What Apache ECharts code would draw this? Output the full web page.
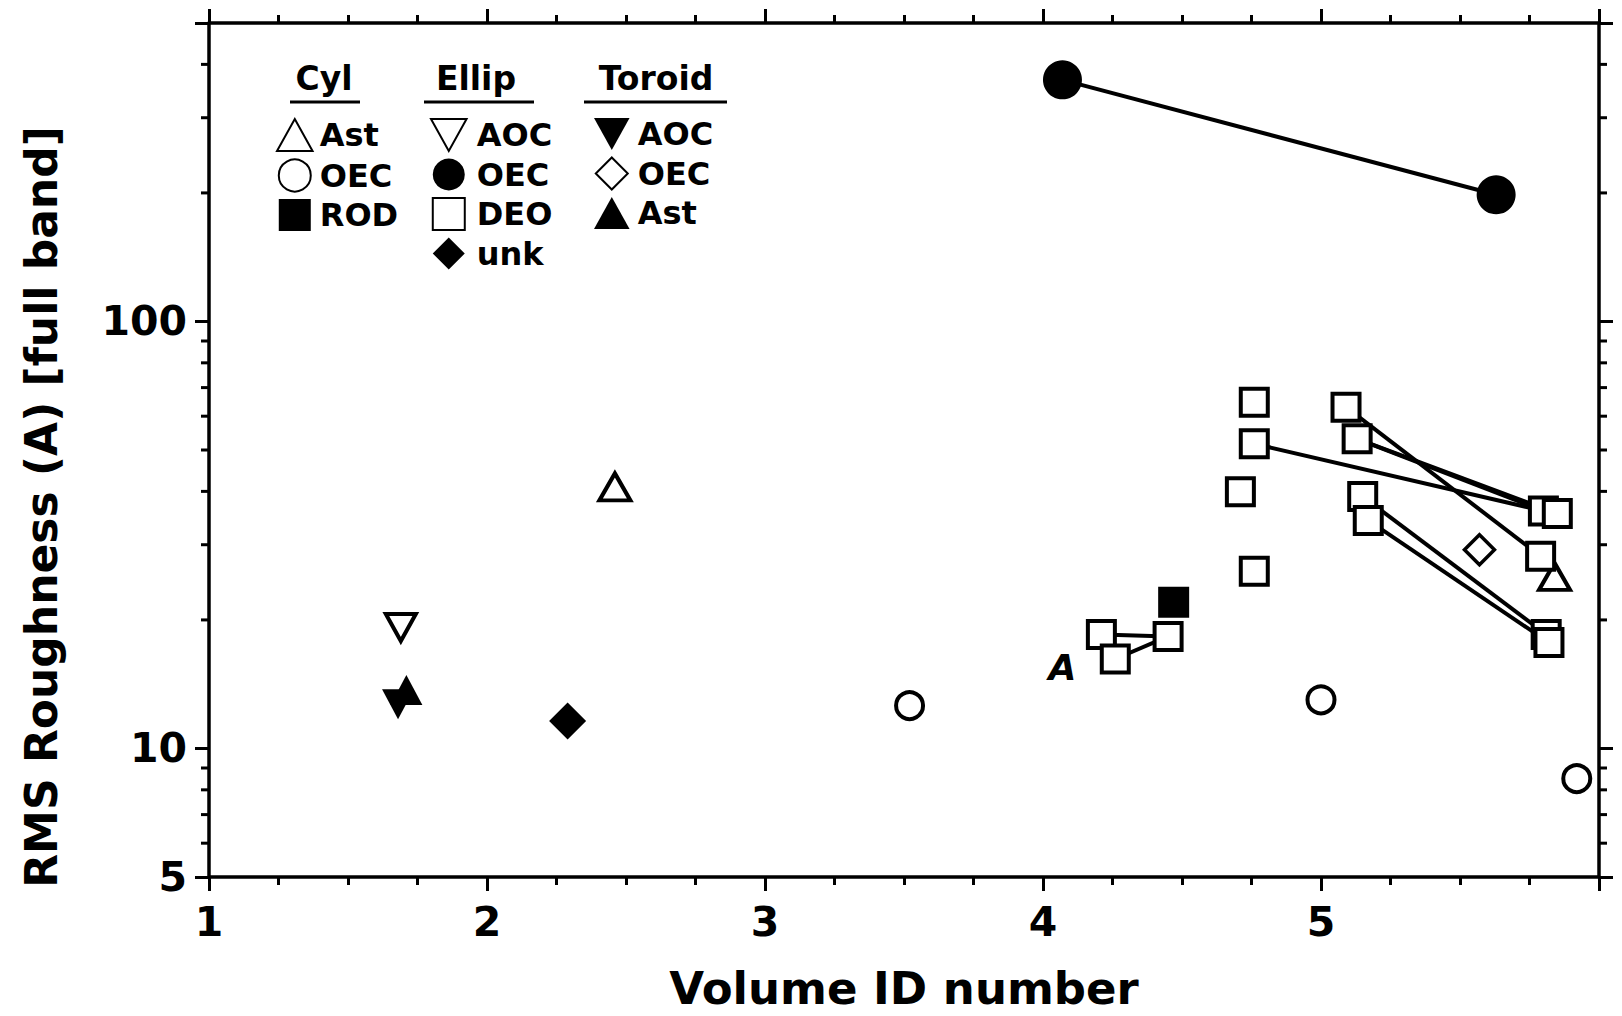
<!DOCTYPE html>
<html>
<head>
<meta charset="utf-8">
<script src="https://cdn.jsdelivr.net/npm/echarts@6/dist/echarts.min.js"></script>
<style>
  html, body { margin: 0; padding: 0; background: #fff; }
  #chart { width: 1622px; height: 1016px; }
</style>
</head>
<body>
<div id="chart"></div>
<script>
// Axis ranges and tick values
const xRange = [1, 6];
const yRange = [5, 500];
const yLabeled = [5, 10, 100];
const yMinorTicks = [6, 7, 8, 9, 20, 30, 40, 50, 60, 70, 80, 90, 200, 300, 400];

// Cylindrical volumes: [volume ID, RMS roughness]
const cylAst = [[2.46, 41.0], [5.84, 25.3]];
const cylOec = [[3.52, 12.6], [5.00, 13.0], [5.92, 8.5]];
const cylRod = [[4.47, 22.0]];

// Elliptical volumes
const ellipAoc = [[1.69, 19.2]];
const ellipOec = [[4.07, 368], [5.63, 198]];
const ellipDeo = [
  [4.21, 18.5], [4.26, 16.2], [4.45, 18.3],
  [4.76, 64.7], [4.76, 51.7], [4.71, 39.9], [4.76, 26.0],
  [5.09, 63.0], [5.13, 53.1], [5.15, 38.9], [5.17, 34.2],
  [5.80, 36.0], [5.85, 35.5], [5.79, 28.2], [5.81, 18.5], [5.82, 17.7]
];
const ellipUnk = [[2.29, 11.6]];

// Toroidal volumes
const toroidAoc = [[1.68, 12.7]];
const toroidOec = [[5.57, 29.2]];
const toroidAst = [[1.71, 13.7]];

// Repeat measurements joined by lines (index pairs)
const deoLinks = [[0, 2], [1, 2], [4, 11], [7, 13], [8, 11], [8, 12], [9, 14], [10, 15]];
const oecLinks = [[0, 1]];

// Lettered point
const annotA = [[4.07, 15.5]];

const FONT = 'DejaVu Sans';
const BLACK = '#000';
// legend glyphs that keep their proportions
const ICON_UP = 'path://M1,0 L2,1.8 L0,1.8 Z';
const ICON_DOWN = 'path://M0,0 L2,0 L1,1.8 Z';
const ICON_SQUARE = 'path://M0,0 L2,0 L2,2 L0,2 Z';
const ICON_DIAMOND = 'path://M1,0 L2,1 L1,2 L0,1 Z';

function openStyle(w) { return { color: '#fff', borderColor: BLACK, borderWidth: w, opacity: 1 }; }
function fillStyle() { return { color: BLACK, borderColor: BLACK, borderWidth: 0, opacity: 1 }; }

function scatter(name, data, symbol, size, itemStyle, rotate) {
  return {
    name, type: 'scatter', data, symbol, symbolSize: size, symbolKeepAspect: true,
    symbolRotate: rotate || 0, itemStyle, z: 4, silent: true
  };
}

const series = [];

// connecting lines first so markers sit on top
function addLinks(points, links) {
  links.forEach(([a, b]) => {
    series.push({
      type: 'line', data: [points[a], points[b]], symbol: 'none', silent: true,
      lineStyle: { color: BLACK, width: 4 }, z: 2
    });
  });
}
addLinks(ellipOec, oecLinks);
addLinks(ellipDeo, deoLinks);

series.push(
  scatter('Cyl Ast', cylAst, 'triangle', [31, 27], openStyle(4)),
  scatter('Cyl OEC', cylOec, 'circle', 27, openStyle(4)),
  scatter('Cyl ROD', cylRod, 'rect', 31, fillStyle()),
  scatter('Ellip AOC', ellipAoc, 'triangle', [30, 27], openStyle(4), 180),
  scatter('Ellip OEC', ellipOec, 'circle', 39, fillStyle()),
  scatter('Ellip DEO', ellipDeo, 'rect', 27, openStyle(4)),
  scatter('Ellip unk', ellipUnk, 'diamond', 37, fillStyle()),
  scatter('Toroid AOC', toroidAoc, 'triangle', [32, 30], fillStyle(), 180),
  scatter('Toroid OEC', toroidOec, 'diamond', 30, openStyle(3.5)),
  scatter('Toroid Ast', toroidAst, 'triangle', [32, 30], fillStyle())
);

// lettered point
series.push({
  type: 'scatter', data: annotA, symbolSize: 2,
  itemStyle: { color: 'rgba(0,0,0,0)', opacity: 1 }, silent: true, z: 4,
  label: {
    show: true, position: 'inside', formatter: 'A',
    fontFamily: FONT, fontWeight: 'bold', fontStyle: 'italic', fontSize: 36, color: BLACK
  }
});

// logarithmic minor ticks on left and right axes
series.push({
  type: 'custom', silent: true, clip: false, z: 6,
  data: yMinorTicks.map(v => [xRange[0], v]),
  encode: { x: 0, y: 1 },
  renderItem(params, api) {
    const v = api.value(1);
    const l = api.coord([xRange[0], v]);
    const r = api.coord([xRange[1], v]);
    const st = { stroke: BLACK, lineWidth: 3 };
    return {
      type: 'group',
      children: [
        { type: 'line', shape: { x1: l[0] - 8, y1: l[1], x2: l[0], y2: l[1] }, style: st },
        { type: 'line', shape: { x1: r[0], y1: r[1], x2: r[0] + 8, y2: r[1] }, style: st }
      ]
    };
  }
});

const axisLineStyle = { show: true, onZero: false, lineStyle: { color: BLACK, width: 3.5 } };
const majorTick = { show: true, inside: false, length: 14, lineStyle: { color: BLACK, width: 3 } };
const labelFont = { fontFamily: FONT, fontWeight: 'bold', fontSize: 41, color: BLACK };

function xAxisDef(position, showLabels) {
  return {
    type: 'value', position, min: xRange[0], max: xRange[1], interval: 1,
    axisLine: axisLineStyle, axisTick: majorTick,
    minorTick: { show: true, splitNumber: 4, length: 8, lineStyle: { color: BLACK, width: 3 } },
    splitLine: { show: false }, minorSplitLine: { show: false },
    axisLabel: showLabels ? Object.assign({
      margin: 24, showMaxLabel: false,
      formatter: v => (v >= xRange[1] ? '' : String(Math.round(v)))
    }, labelFont) : { show: false }
  };
}

function yAxisDef(position, showLabels) {
  return {
    type: 'log', logBase: 10, position, min: yRange[0], max: yRange[1],
    axisLine: axisLineStyle, axisTick: majorTick,
    splitLine: { show: false },
    axisLabel: showLabels ? Object.assign({
      margin: 22,
      formatter: v => {
        const r = Math.round(v);
        return yLabeled.indexOf(r) >= 0 ? String(r) : '';
      }
    }, labelFont) : { show: false }
  };
}

// legend groups with headers
const legendText = {
  fontFamily: FONT, fontWeight: 'bold', fontSize: 32, color: BLACK, lineHeight: 32
};
function legendCol(left, width, items) {
  return {
    orient: 'vertical', left, top: 118, padding: 0, itemGap: 6.5,
    itemWidth: width, itemHeight: 32, selectedMode: false, symbolKeepAspect: true,
    data: items, textStyle: legendText,
    formatter: n => n.replace(/^\S+\s/, '')
  };
}

function header(text, cx, x1, x2) {
  return [
    { type: 'text', x: cx, y: 78, style: {
      text, fontFamily: FONT, fontWeight: 'bold', fontSize: 33, fill: BLACK,
      textAlign: 'center', textVerticalAlign: 'middle' } },
    { type: 'line', shape: { x1, y1: 102, x2, y2: 102 }, style: { stroke: BLACK, lineWidth: 3 } }
  ];
}

const chart = echarts.init(document.getElementById('chart'), null, { renderer: 'svg' });
chart.setOption({
  animation: false,
  backgroundColor: '#fff',
  grid: { left: 209, right: 23, top: 23, bottom: 134, containLabel: false },
  xAxis: [
    Object.assign(xAxisDef('bottom', true), {
      name: 'Volume ID number', nameLocation: 'middle', nameGap: 89,
      nameTextStyle: { fontFamily: FONT, fontWeight: 'bold', fontSize: 45, color: BLACK }
    }),
    xAxisDef('top', false)
  ],
  yAxis: [yAxisDef('left', true), yAxisDef('right', false)],
  legend: [
    legendCol(276, 40, [
      { name: 'Cyl Ast', icon: ICON_UP },
      { name: 'Cyl OEC', icon: 'circle' },
      { name: 'Cyl ROD', icon: ICON_SQUARE }
    ]),
    legendCol(430, 46, [
      { name: 'Ellip AOC', icon: ICON_DOWN },
      { name: 'Ellip OEC', icon: 'circle' },
      { name: 'Ellip DEO', icon: ICON_SQUARE },
      { name: 'Ellip unk', icon: ICON_DIAMOND }
    ]),
    legendCol(594, 42, [
      { name: 'Toroid AOC', icon: ICON_DOWN },
      { name: 'Toroid OEC', icon: ICON_DIAMOND },
      { name: 'Toroid Ast', icon: ICON_UP }
    ])
  ],
  graphic: [
    ...header('Cyl', 324, 290, 360),
    ...header('Ellip', 476, 424, 534),
    ...header('Toroid', 656, 584, 727),
    { type: 'text', x: 41, y: 507, rotation: Math.PI / 2, style: {
      text: 'RMS Roughness (A) [full band]', fontFamily: FONT, fontWeight: 'bold',
      fontSize: 44, fill: BLACK, textAlign: 'center', textVerticalAlign: 'middle' } }
  ],
  series
});
</script>
</body>
</html>
